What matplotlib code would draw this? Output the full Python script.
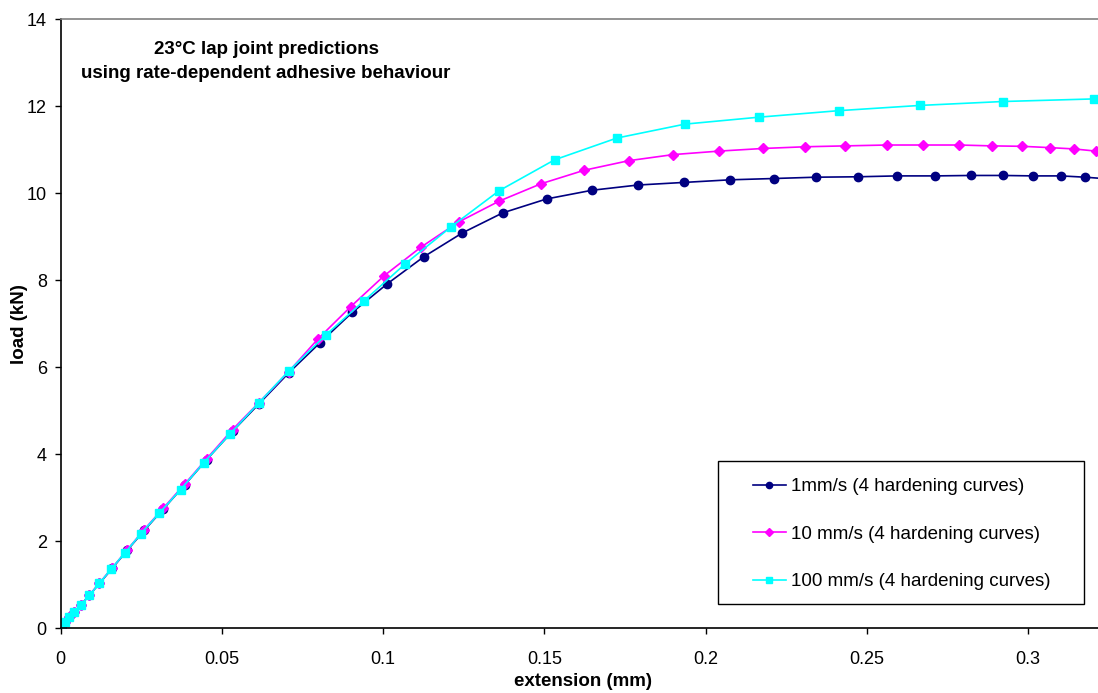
import matplotlib
matplotlib.use("Agg")
import matplotlib.pyplot as plt
from matplotlib.patches import Rectangle
from matplotlib.ticker import FuncFormatter

plt.rcParams['font.family'] = ['Liberation Sans', 'DejaVu Sans']

# ---- data ----
x_1mm = [0, 0.0013, 0.0027, 0.0042, 0.0063, 0.0089, 0.012, 0.016, 0.0206, 0.0259, 0.0318,
         0.0384, 0.0453, 0.0533, 0.0615, 0.0707, 0.0805, 0.0904, 0.1013, 0.1126, 0.1246,
         0.1371, 0.1507, 0.1648, 0.179, 0.1933, 0.2076, 0.2212, 0.2342, 0.2474, 0.2595,
         0.2713, 0.2824, 0.2923, 0.3017, 0.3103, 0.3178, 0.325]
y_1mm = [0, 0.15, 0.25, 0.37, 0.54, 0.76, 1.03, 1.38, 1.79, 2.25, 2.74, 3.29, 3.88, 4.53,
         5.16, 5.87, 6.57, 7.26, 7.92, 8.54, 9.09, 9.55, 9.87, 10.07, 10.19, 10.25, 10.31,
         10.34, 10.37, 10.38, 10.40, 10.40, 10.41, 10.41, 10.40, 10.40, 10.37, 10.33]

x_10mm = [0, 0.0013, 0.0027, 0.0042, 0.0063, 0.0089, 0.012, 0.016, 0.0206, 0.0259, 0.0318,
          0.0384, 0.0453, 0.0533, 0.0615, 0.0707, 0.0799, 0.0899, 0.1004, 0.1117, 0.1234,
          0.136, 0.149, 0.1624, 0.1762, 0.19, 0.2042, 0.2177, 0.231, 0.2434, 0.2562, 0.2676,
          0.2787, 0.2888, 0.2983, 0.3068, 0.3143, 0.3211]
y_10mm = [0, 0.15, 0.25, 0.37, 0.54, 0.76, 1.04, 1.39, 1.80, 2.27, 2.76, 3.31, 3.90, 4.57,
          5.19, 5.90, 6.66, 7.39, 8.11, 8.76, 9.34, 9.82, 10.22, 10.53, 10.75, 10.89, 10.97,
          11.03, 11.07, 11.09, 11.11, 11.11, 11.11, 11.09, 11.08, 11.05, 11.02, 10.97]

x_100mm = [0, 0.0013, 0.0027, 0.0042, 0.0063, 0.0089, 0.012, 0.0156, 0.0200, 0.0248, 0.0306,
           0.0372, 0.0444, 0.0524, 0.0614, 0.0708, 0.0822, 0.0941, 0.1069, 0.1211, 0.136,
           0.1532, 0.1725, 0.1936, 0.2166, 0.2414, 0.2665, 0.2922, 0.3206]
y_100mm = [0, 0.15, 0.25, 0.37, 0.54, 0.76, 1.03, 1.36, 1.74, 2.17, 2.65, 3.19, 3.81, 4.46,
           5.18, 5.92, 6.74, 7.53, 8.38, 9.23, 10.06, 10.77, 11.27, 11.59, 11.75, 11.90,
           12.02, 12.11, 12.17]

labels = ["1mm/s (4 hardening curves)", "10 mm/s (4 hardening curves)",
          "100 mm/s (4 hardening curves)"]
x_ticks = [0, 0.05, 0.1, 0.15, 0.2, 0.25, 0.3]
y_ticks = [0, 2, 4, 6, 8, 10, 12, 14]

W, H = 1098, 693
fig = plt.figure(figsize=(W / 100, H / 100), dpi=100)
L, R, T, B = 60.7, 1098, 19.3, 628.3
ax = fig.add_axes([L / W, 1 - B / H, (R - L) / W, (B - T) / H])

l1, = ax.plot(x_1mm, y_1mm, color='#000080', marker='o', markersize=6, lw=1.2,
              label=labels[0])
l2, = ax.plot(x_10mm, y_10mm, color='#FF00FF', marker='D', markersize=5, lw=1.2,
              label=labels[1])
l3, = ax.plot(x_100mm, y_100mm, color='#00FFFF', marker='s', markersize=6, lw=1.2,
              label=labels[2])

ax.set_xlim(0, (R - L) / 161.2 * 0.05)
ax.set_ylim(0, 14)
ax.set_xticks(x_ticks)
ax.set_yticks(y_ticks)
ax.xaxis.set_major_formatter(FuncFormatter(lambda v, p: f"{v:g}"))
ax.yaxis.set_major_formatter(FuncFormatter(lambda v, p: f"{v:g}"))
ax.tick_params(axis='both', direction='out', length=4, width=1, labelsize=13,
               colors='black')
ax.tick_params(axis='x', pad=12)
ax.tick_params(axis='y', pad=6)

for s in ['left', 'bottom']:
    ax.spines[s].set_color('black')
    ax.spines[s].set_linewidth(1.2)
ax.spines['top'].set_color('#808080')
ax.spines['top'].set_linewidth(1.2)
ax.spines['right'].set_visible(False)

ax.set_xlabel("extension (mm)", fontsize=13.5, fontweight='bold')
ax.set_ylabel("load (kN)", fontsize=13.5, fontweight='bold')
ax.xaxis.set_label_coords((583 - L) / (R - L), -(682 - B) / (B - T))
ax.xaxis.label.set_va('center')
ax.yaxis.set_label_coords(-(L - 19) / (R - L), 0.5)
ax.yaxis.label.set_va('center')

fig.text(266 / W, 1 - 49 / H, "23°C lap joint predictions", ha='center', va='center',
         fontsize=13.5, fontweight='bold')
fig.text(266 / W, 1 - 74 / H, "using rate-dependent adhesive behaviour", ha='center',
         va='center', fontsize=13.5, fontweight='bold')

# legend frame
bx0, by0, bx1, by1 = 718.3, 460.7, 1084.3, 604.3
fig.patches.append(Rectangle((bx0 / W, 1 - by1 / H), (bx1 - bx0) / W, (by1 - by0) / H,
                             transform=fig.transFigure, facecolor='white',
                             edgecolor='black', lw=1.0, zorder=3))
leg = fig.legend(handles=[l1, l2, l3], loc='upper left',
                 bbox_to_anchor=(753 / W, 1 - 478 / H), frameon=False,
                 fontsize=13.5, markerscale=0.75, handlelength=1.75, handletextpad=0.27,
                 labelspacing=1.62, borderpad=0.0, borderaxespad=0.0)
leg.set_zorder(4)

fig.savefig("out.png", dpi=100)
